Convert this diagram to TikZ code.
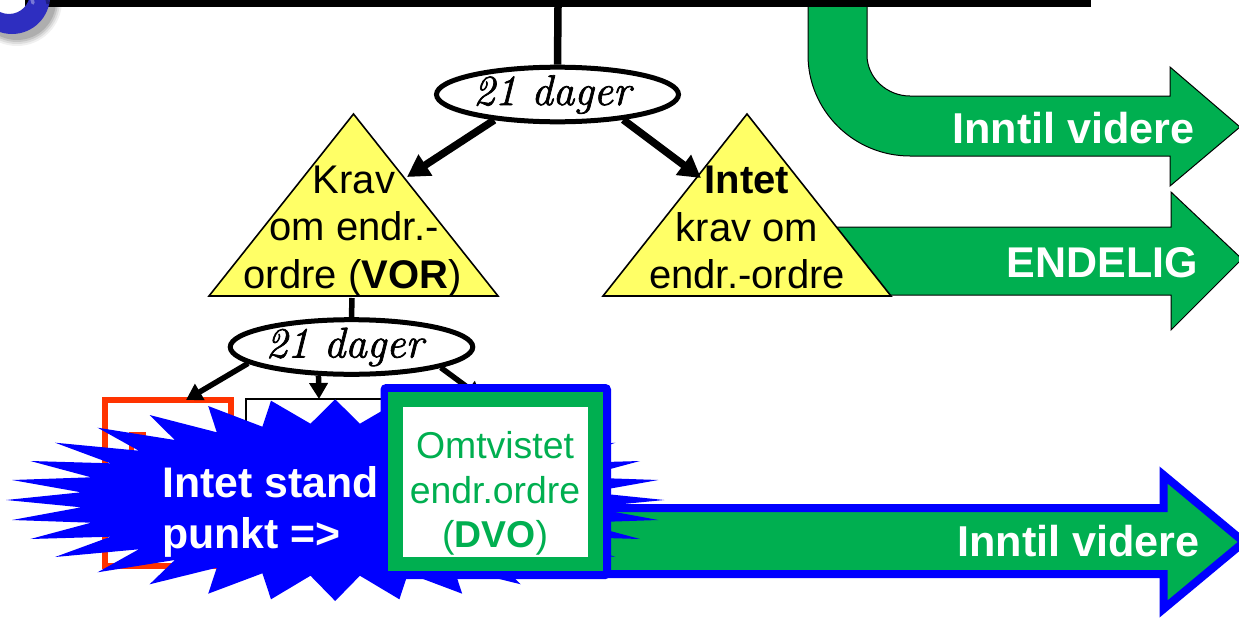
\documentclass[tikz,border=0pt]{standalone}
\usepackage{fontspec}
\setmainfont{Liberation Sans}
\newfontfamily\handfont{Latin Modern Roman}[ItalicFeatures={FakeBold=1.6}]
\usetikzlibrary{shapes.geometric,arrows.meta}
\definecolor{grn}{HTML}{00AF50}
\definecolor{yel}{HTML}{FFFF66}
\definecolor{org}{HTML}{FF3300}
\definecolor{blu}{HTML}{0000FF}
\definecolor{ringc}{HTML}{2E2EC0}
\tikzset{
 x=1pt,y=-1pt,
 tri/.style={draw=black,line width=1.6pt,fill=yel,line join=miter},
 oval/.style={ellipse,draw=black,line width=5pt,fill=white,inner sep=0pt,minimum width=242pt,minimum height=51pt,font=\handfont\itshape\fontsize{43}{44}\selectfont},
 link/.style={draw=black,line width=7.5pt},
 thinlink/.style={draw=black,line width=5.5pt},
 arr/.style={link,-{Triangle[length=22pt,width=24pt]}},
 smallarr/.style={thinlink,-{Triangle[length=16pt,width=18pt]}},
 lab/.style={text=black,font=\fontsize{40}{45}\selectfont,inner sep=0pt,anchor=base},
 glab/.style={text=grn,font=\fontsize{37.4}{45}\selectfont,inner sep=0pt,anchor=base},
 wlab/.style={text=white,font=\fontsize{43.2}{48}\selectfont\bfseries,inner sep=0pt,anchor=base east},
 slab/.style={text=white,font=\fontsize{42.8}{48}\selectfont\bfseries,inner sep=0pt,anchor=base west},
 bigarrow/.style={fill=grn,draw=black,line width=1pt,line join=miter},
}
\begin{document}
\begin{tikzpicture}
\useasboundingbox (0,0) rectangle (1239,621);
% logo ring with soft shadow
\foreach \r/\o in {45/0.06,43/0.08,41/0.10,39/0.12}{\fill[black,opacity=\o] (17,1) circle (\r pt);}
\fill[white] (8,-4) circle (22pt);
% top bar
\fill[black] (25,0) rectangle (1091,7);
\fill[ringc,even odd rule] (12,-4) circle (38pt) (9,-7) circle (21pt);
\draw[white!35!ringc,line width=3.5pt,line cap=round] (33,3) arc[start angle=10,end angle=75,radius=23pt];
\draw[black!35!ringc,line width=3pt] (48,4) arc[start angle=10,end angle=70,radius=37pt];
% green arrows
\draw[bigarrow] (808,7) -- (808,55) .. controls (808,111) and (854,156) .. (910,156) -- (1170,156) -- (1170,186) -- (1240,127) -- (1170,67) -- (1170,96) -- (910,96) .. controls (887,96) and (867,78) .. (867,55) -- (867,7);
\draw[bigarrow] (836,227) -- (1171,227) -- (1171,192) -- (1242,259) -- (1171,330) -- (1171,295) -- (880,295);
\node[wlab] (lab1) at (1195,143) {Inntil videre};
\node[wlab,font=\fontsize{43}{48}\selectfont\bfseries] (lab2) at (1198,277) {ENDELIG};
% triangles
\coordinate (t1a) at (353.5,114);\coordinate (t1b) at (498,296);\coordinate (t1c) at (209,296);
\coordinate (t2a) at (747,114);\coordinate (t2b) at (891,296);\coordinate (t2c) at (603,296);
\draw[tri] (t1a) -- (t1b) -- (t1c) -- cycle;
\draw[tri] (t2a) -- (t2b) -- (t2c) -- cycle;
% upper oval and connectors
\coordinate (top) at (558,7);
\node[oval] (o1) at (557.5,94.5) {\raisebox{-2pt}{21 dager}\kern11pt};
\draw[link] (top) -- (o1.north);
\coordinate (h1) at (407,177);\coordinate (h2) at (701,178);
\draw[arr] (o1.202) -- (h1);
\draw[arr] (o1.-21) -- (h2);
\node[lab] (k1) at (354,193) {Krav};
\node[lab] (k2) at (354,240) {om endr.-};
\node[lab] (k3) at (352.5,288) {ordre (\textbf{VOR})};
\node[lab] (i1) at (747,193) {\textbf{Intet}};
\node[lab] (i2) at (747,241) {krav om};
\node[lab] (i3) at (747,288) {endr.-ordre};
% lower oval, boxes and connectors
\node[oval] (o2) at (351.5,347) {\raisebox{-2pt}{21 dager}\kern14pt};
\coordinate (kb) at (352,298);
\draw[thinlink] (kb) -- (o2.north);
\node[draw=org,line width=5.5pt,fill=white,minimum width=126pt,minimum height=166pt,inner sep=0pt] (bo) at (168,483) {};
\node[draw=black,line width=2pt,fill=white,minimum width=150pt,minimum height=168pt,inner sep=0pt] (bw) at (321,483) {};
\draw[org,line width=5pt] (131,452) -- (131,434.5) -- (146,434.5);
\coordinate (a1e) at (186,400);\coordinate (a2e) at (319,399);\coordinate (a3e) at (482,398);
\draw[smallarr] (o2.189) -- (a1e);
\draw[smallarr] (o2.221) -- (a2e);
\draw[smallarr] (o2.-13) -- (a3e);
% blue outlined arrow
\draw[fill=grn,draw=blu,line width=8pt,line join=miter] (600,508) -- (1163.5,508) -- (1163.5,475) -- (1244,542) -- (1163.5,609) -- (1163.5,574) -- (600,574) -- cycle;
% star
\fill[blu] (335.2,399.3) -- (310.5,423.7) -- (271,400.7) -- (262.4,426.7) -- (208.2,406) -- (216.8,432.3) -- (149.6,415) -- (174.8,440) -- (97.6,427.7) -- (138.8,450.7) -- (55.1,442.7) -- (110.6,463.3) -- (30.4,461) -- (91.1,477.3) -- (12.1,480) -- (81.1,492.3) -- (6.1,500) -- (81.1,507.3) -- (12.1,520) -- (91.1,522.7) -- (30.4,539) -- (110.6,536.7) -- (55.1,557) -- (138.8,549.3) -- (97.6,572.3) -- (174.8,560) -- (149.6,584.3) -- (216.8,567.7) -- (208.2,593.7) -- (262.4,573.3) -- (271,599.3) -- (310.5,575.7) -- (335.2,601) -- (359.9,575.7) -- (399.4,599.3) -- (408,573.3) -- (462.2,593.7) -- (453.6,567.7) -- (520.8,584.3) -- (495.6,560) -- (572.8,572.3) -- (531.6,549.3) -- (615.3,557) -- (559.8,536.7) -- (640,539) -- (579.3,522.7) -- (658.3,520) -- (589.3,507.3) -- (664.3,500) -- (589.3,492.3) -- (658.3,480) -- (579.3,477.3) -- (640,461) -- (559.8,463.3) -- (615.3,442.7) -- (531.6,450.7) -- (572.8,427.7) -- (495.6,440) -- (520.8,415) -- (453.6,432.3) -- (462.2,406) -- (408,426.7) -- (399.4,400.7) -- (359.9,423.7) -- cycle;
\node[slab] (st1) at (162,497) {Intet stand};
\node[slab] (st2) at (162,548) {punkt =>};
% DVO box
\draw[draw=blu,line width=8pt,rounded corners=2pt] (384.5,388) rectangle (607,575);
\fill[grn] (388,392) rectangle (603,571);
\fill[white] (403,407) rectangle (588,557);
\node[glab] (d1) at (495,458) {Omtvistet};
\node[glab] (d2) at (495,503) {endr.ordre};
\node[glab] (d3) at (495,547) {(\textbf{DVO})};
\node[wlab] (lab3) at (1200,556) {Inntil videre};
\end{tikzpicture}
\end{document}
